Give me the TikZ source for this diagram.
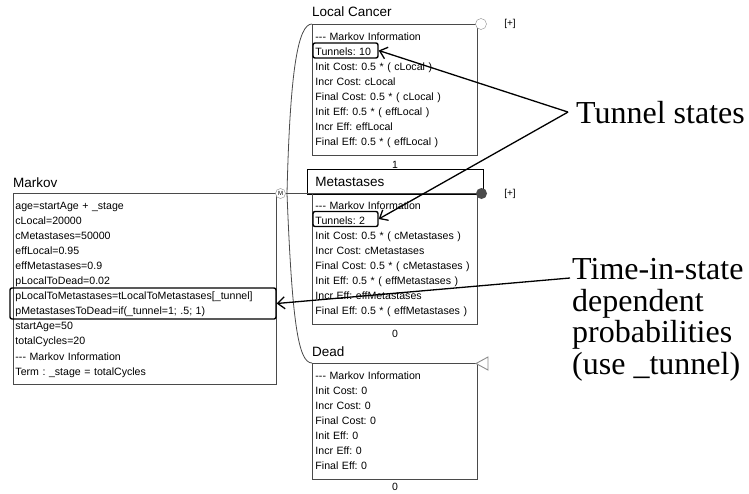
\documentclass[tikz,border=0pt]{standalone}
\usepackage{fontspec}
\setmainfont{Liberation Serif}
\newfontfamily\uifont{Liberation Sans}
\usepackage{tikz}
\usetikzlibrary{arrows.meta,positioning}

\definecolor{treegray}{HTML}{4A4A4A}
\definecolor{iconrim}{HTML}{8C8C8C}
\frenchspacing

\begin{document}
\begin{tikzpicture}[x=1pt,y=-1pt]
\tikzstyle{infobox}=
[
	draw=treegray, line width=0.9pt, anchor=north west,
	align=left, inner xsep=3pt, inner ysep=5pt, text width=159pt,
	font=\uifont\fontsize{10.6}{15.1}\selectfont,
	execute at begin node=\strut, execute at end node=\strut
]
\tikzstyle{statetitle}=[anchor=west, inner sep=0pt, font=\uifont\fontsize{13.5}{16}\selectfont]
\tikzstyle{count}=[inner sep=0pt, font=\uifont\fontsize{10.5}{12}\selectfont]
\tikzstyle{plus}=[inner sep=0pt, font=\uifont\fontsize{10}{12}\selectfont]
\tikzstyle{hilite}=[draw, line width=1.4pt, rounded corners=2pt, inner sep=0pt]
\tikzstyle{branch}=[draw=treegray, line width=0.8pt]
\tikzstyle{callout}=[draw, line width=1.3pt, -{Straight Barb[length=7pt,width=12pt]}]
\tikzstyle{note}=[inner sep=0pt, align=left, font=\fontsize{32}{31.7}\selectfont]

\useasboundingbox (0,0) rectangle (749,493);

\coordinate (split) at (287,193.5);

\node[statetitle] (markovtitle) at (13,183) {Markov};
\node[infobox, inner xsep=2pt, text width=259pt] (markov) at (13,193) {%
age=startAge + \_stage\\
cLocal=20000\\
cMetastases=50000\\
effLocal=0.95\\
effMetastases=0.9\\
pLocalToDead=0.02\\
pLocalToMetastases=tLocalToMetastases[\_tunnel]\\
pMetastasesToDead=if(\_tunnel=1; .5; 1)\\
startAge=50\\
totalCycles=20\\
-{}-{}- Markov Information\\
Term : \_stage = totalCycles};

\node[statetitle] (localtitle) at (312,12) {Local Cancer};
\node[infobox] (local) at (312,24) {%
-{}-{}- Markov Information\\
Tunnels: 10\\
Init Cost: 0.5 * ( cLocal )\\
Incr Cost: cLocal\\
Final Cost: 0.5 * ( cLocal )\\
Init Eff: 0.5 * ( effLocal )\\
Incr Eff: effLocal\\
Final Eff: 0.5 * ( effLocal )};
\node[count, below=5pt of local] (localn) {1};

\node[draw, line width=0.9pt, anchor=north west, minimum width=176pt, minimum height=25pt,
	text width=160pt, inner xsep=8pt, align=left,
	font=\uifont\fontsize{13.5}{16}\selectfont] (metatitle) at (307,169) {Metastases};
\node[infobox] (meta) at (312,193) {%
-{}-{}- Markov Information\\
Tunnels: 2\\
Init Cost: 0.5 * ( cMetastases )\\
Incr Cost: cMetastases\\
Final Cost: 0.5 * ( cMetastases )\\
Init Eff: 0.5 * ( effMetastases )\\
Incr Eff: effMetastases\\
Final Eff: 0.5 * ( effMetastases )};
\node[count, below=5pt of meta] (metan) {0};

\node[statetitle] (deadtitle) at (312,352) {Dead};
\node[infobox] (dead) at (312,363) {%
-{}-{}- Markov Information\\
Init Cost: 0\\
Incr Cost: 0\\
Final Cost: 0\\
Init Eff: 0\\
Incr Eff: 0\\
Final Eff: 0};
\node[count, below=3.5pt of dead] (deadn) {0};

\draw[branch] (split) .. controls (290,70) and (298,24) .. (local.north west);
\draw[branch] (split) .. controls (292,320) and (298,363) .. (dead.north west);

\node[circle, fill=treegray, minimum size=11pt, inner sep=0pt] (metaend) at (481.5,193.5) {};
\node[draw=iconrim, circle, fill=white, minimum size=10pt, inner sep=0pt,
	font=\uifont\fontsize{6}{6}\selectfont] (mnode) at (280.5,193.5) {M};
\draw[branch] (mnode.east) -- (metaend.west);
\node[draw=iconrim, circle, fill=white, minimum size=11pt, inner sep=0pt] (localend) at (481,24) {};
\coordinate (deadend) at (476,363.5);
\draw[iconrim, fill=white, line width=0.9pt] (deadend) -- (488,357) -- (488,370) -- cycle;

\node[plus] (localplus) at (510,24) {[+]};
\node[plus] (metaplus) at (510,194) {[+]};

\node[hilite, minimum width=65pt, minimum height=15pt] (tun10) at (345.5,50.5) {};
\node[hilite, minimum width=65pt, minimum height=15pt] (tun2) at (345.5,219) {};
\node[hilite, minimum width=266pt, minimum height=31pt] (mhilite) at (143,303.5) {};

\node[note, anchor=base west] (tunnelnote) at (576,123) {Tunnel states};
\coordinate[left=8pt of tunnelnote.west] (tunneljoin);
\draw[callout] (tunneljoin) -- (tun10.east);
\draw[callout] (tunneljoin) -- (tun2.east);

\node[note, anchor=north west] (timenote) at (572,258) {Time-in-state\\dependent\\probabilities\\(use \_tunnel)};
\coordinate[below left=20pt and 2pt of timenote.north west] (timejoin);
\draw[callout] (timejoin) -- (mhilite.east);
\end{tikzpicture}
\end{document}
